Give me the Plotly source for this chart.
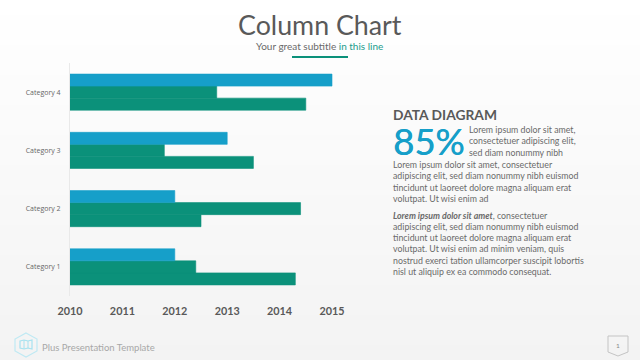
import plotly.graph_objects as go

categories = ["Category 1", "Category 2", "Category 3", "Category 4"]
series_bottom = [2014.3, 2012.5, 2013.5, 2014.5]
series_middle = [2012.4, 2014.4, 2011.8, 2012.8]
series_top = [2012.0, 2012.0, 2013.0, 2015.0]
year_ticks = [2010, 2011, 2012, 2013, 2014, 2015]

TITLE = "Column Chart"
SUB_A = "Your great subtitle "
SUB_B = "in this line"
HEAD = "DATA DIAGRAM"
BIG = "85%"
SHORT_LINES = ["Lorem ipsum dolor sit amet,", "consectetuer adipiscing elit,", "sed diam nonummy nibh"]
LONG_LINES = ["Lorem ipsum dolor sit amet, consectetuer",
              "adipiscing elit, sed diam nonummy nibh euismod",
              "tincidunt ut laoreet dolore magna aliquam erat",
              "volutpat. Ut wisi enim ad"]
PARA_LINES = ["<b><i>Lorem ipsum dolor sit amet</i></b>, consectetuer",
              "adipiscing elit, sed diam nonummy nibh euismod",
              "tincidunt ut laoreet dolore magna aliquam erat",
              "volutpat. Ut wisi enim ad minim veniam, quis",
              "nostrud exerci tation ullamcorper suscipit lobortis",
              "nisl ut aliquip ex ea commodo consequat."]
FOOTER = "Plus Presentation Template"

W, H = 640, 360
GREEN, BLUE = "#0B917A", "#169FC9"
TEXT = "#595959"
FONT = "Lato"


def px(x):
    return x / W


def py(y):
    return 1 - y / H


fig = go.Figure()
for name, vals, col in [("Series 1", series_bottom, GREEN),
                        ("Series 2", series_middle, GREEN),
                        ("Series 3", series_top, BLUE)]:
    fig.add_trace(go.Bar(y=categories, x=vals, orientation="h", name=name,
                         marker=dict(color=col, line=dict(color=col, width=0.6))))


def text(x, y, s, size=8.8, color=TEXT, anchor="left", family=FONT, shadow=None):
    font = dict(size=size, color=color, family=family)
    if shadow:
        font["shadow"] = shadow
    fig.add_annotation(xref="paper", yref="paper", x=px(x), y=py(y), text=s, showarrow=False,
                       xanchor=anchor, yanchor="middle", align=anchor, borderpad=0, borderwidth=0,
                       font=font)


text(320, 25, TITLE, size=26.8, anchor="center")
text(319, 46.5, f"{SUB_A}<span style='color:#1C9C8C'>{SUB_B}</span>", size=10, color="#6a6a6a", anchor="center")
text(393, 114, f"<b>{HEAD}</b>", size=13.8)
text(393, 141, BIG, size=36.5, color=BLUE, shadow=f"0.5px 0 0 {BLUE}")
for i, s in enumerate(SHORT_LINES):
    text(469, 129.5 + i * 11.4, s, color="#6a6a6a")
for i, s in enumerate(LONG_LINES):
    text(393, 164.5 + i * 11.4, s, color="#6a6a6a")
for i, s in enumerate(PARA_LINES):
    text(393, 215 + i * 11.3, s, color="#6a6a6a")
text(42, 347.5, FOOTER, size=9.5, color="#a8a8a8")
text(618, 345.5, "1", size=6.5, color="#888888", anchor="center")

shapes = []
STEPS = 24
for i in range(STEPS):
    v = 255 - round(12 * i / (STEPS - 1))
    shapes.append(dict(type="rect", xref="paper", yref="paper", layer="below",
                       x0=0, x1=1, y0=py(H * (i + 1) / STEPS), y1=py(H * i / STEPS),
                       fillcolor=f"rgb({v},{v},{v})", line=dict(width=0)))
shapes.append(dict(type="rect", xref="paper", yref="paper", x0=px(292), x1=px(348), y0=py(58), y1=py(56),
                   fillcolor=GREEN, line=dict(width=0)))


def path(points, close=True):
    d = "M " + " L ".join(f"{px(x):.5f},{py(y):.5f}" for x, y in points)
    return d + (" Z" if close else "")


# footer hexagon and map glyph
shapes.append(dict(type="path", xref="paper", yref="paper",
                   path=path([(26, 333), (37, 339), (37, 351), (26, 357), (15, 351), (15, 339)]),
                   line=dict(color="#BFE9F3", width=1.2)))
shapes.append(dict(type="path", xref="paper", yref="paper",
                   path=path([(20, 341), (24, 340), (28, 341), (32, 340), (32, 349), (28, 348), (24, 349), (20, 348)]),
                   line=dict(color="#A6E2F0", width=1.2)))
shapes.append(dict(type="path", xref="paper", yref="paper",
                   path=path([(24, 340), (24, 349)], close=False), line=dict(color="#A6E2F0", width=1)))
shapes.append(dict(type="path", xref="paper", yref="paper",
                   path=path([(28, 341), (28, 348)], close=False), line=dict(color="#A6E2F0", width=1)))
# page number tag
shapes.append(dict(type="path", xref="paper", yref="paper",
                   path=path([(608, 336), (628, 336), (628, 352), (618, 356), (608, 352)]),
                   line=dict(color="#C4C4C4", width=1)))

fig.update_layout(
    width=W, height=H, margin=dict(l=0, r=0, t=0, b=0, pad=0, autoexpand=False), showlegend=False,
    barmode="group", bargap=0.38, bargroupgap=0,
    paper_bgcolor="#FAFAFA", plot_bgcolor="rgba(0,0,0,0)", shapes=shapes,
    xaxis=dict(domain=[px(70), px(358.2)], range=[2010, 2015.5], tickvals=year_ticks,
               showgrid=False, zeroline=False, showline=False, ticks="", ticklabelstandoff=7,
               automargin=False,
               tickfont=dict(family=FONT, size=10.8, color=TEXT, weight="bold"), tickformat="d"),
    yaxis=dict(domain=[py(296), py(63)], showgrid=False, zeroline=False, showline=True,
               linecolor="#E9E9E9", linewidth=1, ticks="", ticklabelstandoff=7, automargin=False,
               tickfont=dict(family="Open Sans", size=7, color="#666666")),
)

fig.write_html("out.html", config=dict(displayModeBar=False),
               post_script="document.body.style.margin='0';document.body.style.overflow='hidden';")
